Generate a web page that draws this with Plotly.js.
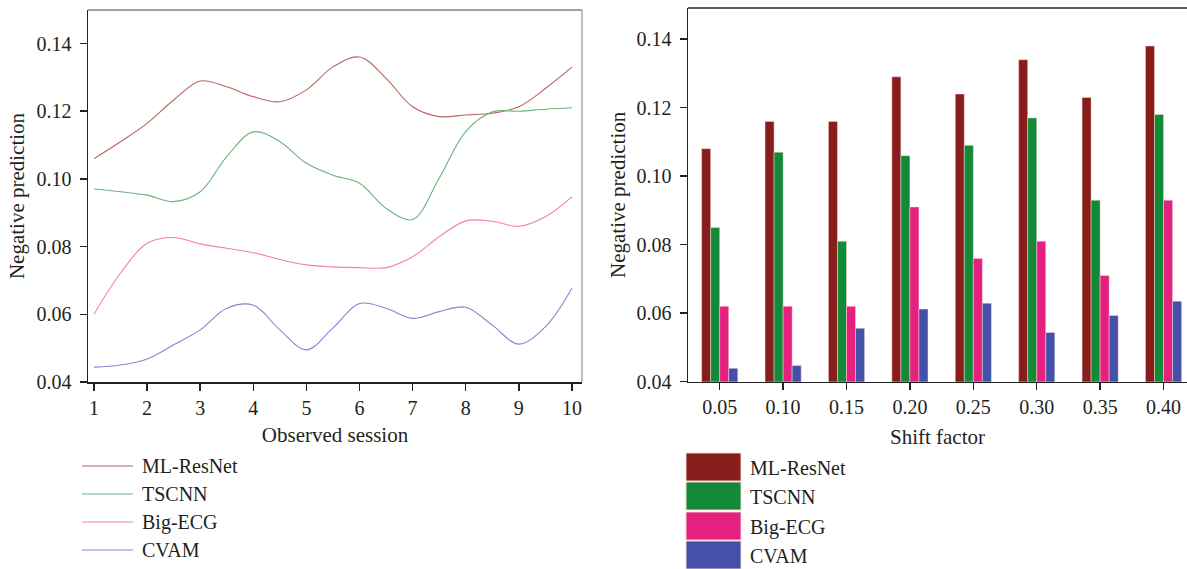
<!DOCTYPE html>
<html>
<head>
<meta charset="utf-8">
<script src="https://cdn.plot.ly/plotly-3.0.1.min.js"></script>
<style>html,body{margin:0;padding:0;background:#fff;overflow:hidden}#chart{width:1187px;height:569px}</style>
</head>
<body>
<div id="chart"></div>
<script>
// ---- Left chart data (read at half-session steps) ----
const sessions = [1,1.5,2,2.5,3,3.5,4,4.5,5,5.5,6,6.5,7,7.5,8,8.5,9,9.5,10];
const sessionTicks = [1,2,3,4,5,6,7,8,9,10];
const mlResNetLine = [0.106,0.1110,0.1164,0.1233,0.1289,0.1272,0.1243,0.1228,0.1263,0.1331,0.1360,0.1297,0.1213,0.1184,0.1189,0.1194,0.1213,0.1267,0.1330];
const tscnnLine    = [0.097,0.0962,0.0952,0.0933,0.0962,0.1066,0.1139,0.111,0.1046,0.1011,0.0987,0.0913,0.0880,0.1002,0.1140,0.1198,0.1200,0.1206,0.121];
const bigEcgLine   = [0.060,0.0722,0.081,0.0827,0.0808,0.0795,0.0782,0.0762,0.0746,0.0740,0.0738,0.0738,0.0770,0.0829,0.0876,0.0875,0.0860,0.0888,0.0947];
const cvamLine     = [0.0444,0.0450,0.0468,0.0510,0.0554,0.0618,0.0627,0.0554,0.0495,0.0560,0.0632,0.0618,0.0588,0.0608,0.0621,0.0568,0.0512,0.0563,0.0677];

// ---- Right chart data ----
const shiftFactors = ['0.05','0.10','0.15','0.20','0.25','0.30','0.35','0.40'];
const mlResNetBar = [0.108,0.116,0.116,0.129,0.124,0.134,0.123,0.138];
const tscnnBar    = [0.085,0.107,0.081,0.106,0.109,0.117,0.093,0.118];
const bigEcgBar   = [0.062,0.062,0.062,0.091,0.076,0.081,0.071,0.093];
const cvamBar     = [0.0439,0.0447,0.0556,0.0612,0.0629,0.0544,0.0593,0.0635];

const seriesNames = ['ML-ResNet','TSCNN','Big-ECG','CVAM'];
const yTicks = [0.04,0.06,0.08,0.10,0.12,0.14];
const yTickText = ['0.04','0.06','0.08','0.10','0.12','0.14'];

const lineColors = ['#b7655d','#6cb37a','#f37fb4','#8585d0'];
const barColors  = ['#871e1b','#128a37','#e6207f','#4451a8'];

const W = 1187, H = 569;
const px = x => x / W;
const py = y => 1 - y / H;

const FONT = 'Liberation Serif, Times New Roman, serif';
const TXT = '#231f20';

const lineData = [mlResNetLine, tscnnLine, bigEcgLine, cvamLine];
const barData = [mlResNetBar, tscnnBar, bigEcgBar, cvamBar];

const traces = [];
lineData.forEach((vals, i) => {
  traces.push({
    type: 'scatter', mode: 'lines', x: sessions, y: vals, name: seriesNames[i],
    line: {color: lineColors[i], width: 1.1, shape: 'spline', smoothing: 1},
    xaxis: 'x', yaxis: 'y', showlegend: false, hoverinfo: 'skip'
  });
});
barData.forEach((vals, i) => {
  traces.push({
    type: 'bar', x: shiftFactors, y: vals, name: seriesNames[i],
    marker: {color: barColors[i], line: {width: 0.6, color: 'rgba(255,220,220,0.8)'}},
    xaxis: 'x2', yaxis: 'y2', showlegend: false, hoverinfo: 'skip'
  });
});

const axisCommon = {
  showgrid: false, zeroline: false, showline: true, linecolor: '#222', linewidth: 1.5,
  ticks: 'outside', ticklen: 7, tickwidth: 1.5, tickcolor: '#222',
  tickfont: {family: FONT, size: 20, color: TXT}
};

const shapes = [
  {type:'line', xref:'paper', yref:'paper', x0:px(88), x1:px(582), y0:py(10), y1:py(10), line:{color:'#444', width:1.2}},
  {type:'line', xref:'paper', yref:'paper', x0:px(582), x1:px(582), y0:py(10), y1:py(382), line:{color:'#aaa', width:1.5}},
  {type:'line', xref:'paper', yref:'paper', x0:px(688), x1:1, y0:py(8), y1:py(8), line:{color:'#222', width:1.6}}
];
const annotations = [];

const leftLegY = [466, 494, 522, 550];
seriesNames.forEach((n, i) => {
  shapes.push({type:'line', xref:'paper', yref:'paper', x0:px(82), x1:px(133), y0:py(leftLegY[i]), y1:py(leftLegY[i]), line:{color: lineColors[i], width: 1.2}});
  annotations.push({xref:'paper', yref:'paper', x:px(140), y:py(leftLegY[i]), xanchor:'left', yanchor:'middle', showarrow:false, text:n, font:{family:FONT, size:20, color:TXT}});
});
const rightLegTop = [453, 482, 512, 541];
const rightLegY = [468, 497, 527, 556];
seriesNames.forEach((n, i) => {
  shapes.push({type:'rect', xref:'paper', yref:'paper', x0:px(686), x1:px(741), y0:py(rightLegTop[i]), y1:py(rightLegTop[i]+28), fillcolor: barColors[i], line:{color:'rgba(255,220,220,0.9)', width:1}});
  annotations.push({xref:'paper', yref:'paper', x:px(748), y:py(rightLegY[i]), xanchor:'left', yanchor:'middle', showarrow:false, text:n, font:{family:FONT, size:20, color:TXT}});
});

const titleFont = {family: FONT, size: 21, color: TXT};
const layout = {
  width: W, height: H, margin: {l:0, r:0, t:0, b:0},
  paper_bgcolor: '#fff', plot_bgcolor: '#fff', showlegend: false,
  font: {family: FONT, color: TXT},
  bargap: 0.43, bargroupgap: 0,
  xaxis: Object.assign({}, axisCommon, {
    domain: [px(88), px(582)], anchor: 'y', range: [0.887, 10.19],
    tickvals: sessionTicks, ticktext: sessionTicks.map(String),
    title: {text: 'Observed session', font: titleFont, standoff: 10}
  }),
  yaxis: Object.assign({}, axisCommon, {
    domain: [py(382), py(10)], anchor: 'x', range: [0.04, 0.1499],
    tickvals: yTicks, ticktext: yTickText, ticklabelstandoff: 4,
    title: {text: 'Negative prediction', font: titleFont, standoff: 6}
  }),
  xaxis2: Object.assign({}, axisCommon, {
    domain: [px(688), 1], anchor: 'y2', range: [-0.5, 7.37], type: 'category',
    title: {text: 'Shift factor', font: titleFont, standoff: 12}
  }),
  yaxis2: Object.assign({}, axisCommon, {
    domain: [py(381.7), py(8)], anchor: 'x2', range: [0.04, 0.1491],
    tickvals: yTicks, ticktext: yTickText, ticklabelstandoff: 4,
    title: {text: 'Negative prediction', font: titleFont, standoff: 5}
  }),
  shapes: shapes, annotations: annotations
};

Plotly.newPlot('chart', traces, layout, {staticPlot: true, displayModeBar: false});
</script>
</body>
</html>
